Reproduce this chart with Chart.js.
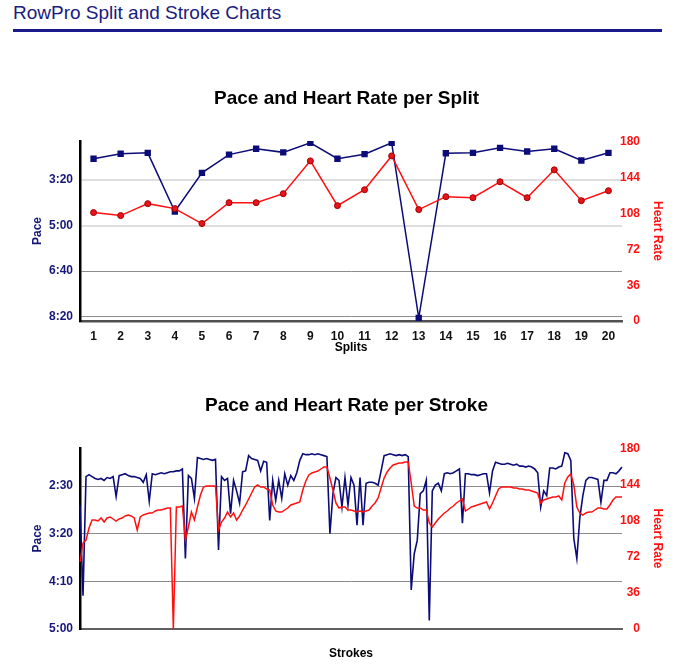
<!DOCTYPE html>
<html>
<head>
<meta charset="utf-8">
<title>RowPro Split and Stroke Charts</title>
<script src="https://cdn.jsdelivr.net/npm/chart.js@4.4.1/dist/chart.umd.min.js"></script>
<style>
  body { margin: 0; background: #fff; width: 685px; height: 665px; overflow: hidden; position: relative;
         font-family: "Liberation Sans", Arial, Helvetica, sans-serif; }
  #head { position: absolute; left: 13px; top: 2px; font-size: 19px; color: #1a1a80; white-space: nowrap; }
  #rule { position: absolute; left: 13px; top: 29px; width: 649px; height: 3px; background: #1a1a8a; }
  canvas { position: absolute; left: 0; }
</style>
</head>
<body>
<div id="head">RowPro Split and Stroke Charts</div>
<div id="rule"></div>
<canvas id="splitChart" width="685" height="300" style="top:60px"></canvas>
<canvas id="strokeChart" width="685" height="300" style="top:365px"></canvas>
<script>
// split data (pace in seconds per 500m, heart rate in bpm)
const splits = [1, 2, 3, 4, 5, 6, 7, 8, 9, 10, 11, 12, 13, 14, 15, 16, 17, 18, 19, 20];
const splitPace = [153, 142, 140, 269, 184, 144, 131, 139, 118, 153, 143, 118, 503, 141, 140, 129, 137, 131, 157, 140];
const splitHR = [109, 106, 118, 113, 98, 119, 119, 128, 161, 116, 132, 166, 112, 125, 124, 140, 124, 152, 121, 131];
const splitPaceTicks = [200, 300, 400, 500];
const hrTicks = [0, 36, 72, 108, 144, 180];

// stroke data
const strokePace = [
  170, 265, 140, 138, 140, 142, 143, 142, 144, 141,
  142, 140, 161, 139, 138, 137, 139, 140, 140, 141,
  142, 146, 138, 166, 137, 138, 137, 136, 137, 136,
  135, 135, 134, 134, 132, 226, 139, 142, 163, 120,
  121, 122, 121, 122, 123, 122, 217, 140, 144, 142,
  179, 144, 155, 168, 135, 134, 118, 121, 122, 123,
  134, 124, 125, 186, 144, 165, 144, 163, 137, 149,
  139, 144, 136, 123, 116, 117, 117, 116, 117, 116,
  117, 118, 119, 200, 158, 141, 144, 172, 141, 170,
  141, 149, 191, 141, 191, 147, 146, 146, 147, 149,
  134, 118, 117, 116, 117, 118, 117, 118, 117, 119,
  259, 221, 207, 158, 155, 144, 291, 155, 149, 147,
  155, 137, 136, 137, 136, 134, 132, 189, 137, 137,
  138, 138, 139, 138, 137, 137, 157, 134, 125, 126,
  127, 127, 126, 127, 128, 127, 129, 129, 130, 129,
  130, 132, 136, 172, 155, 160, 131, 131, 132, 130,
  129, 115, 116, 123, 205, 226, 183, 160, 144, 141,
  141, 142, 143, 167, 144, 144, 136, 136, 137, 134,
  130
];
const strokeHR = [
  67, 86, 89, 101, 109, 109, 108, 111, 107, 111,
  112, 110, 108, 110, 111, 113, 114, 113, 111, 99,
  112, 114, 115, 116, 116, 118, 119, 119, 120, 121,
  121, 0, 122, 122, 123, 89, 102, 117, 109, 122,
  134, 142, 143, 143, 143, 143, 99, 107, 111, 117,
  112, 116, 109, 113, 119, 124, 130, 136, 142, 144,
  142, 142, 140, 139, 124, 118, 117, 117, 119, 121,
  124, 125, 126, 127, 139, 148, 154, 156, 157, 158,
  160, 162, 162, 151, 139, 126, 121, 122, 122, 119,
  119, 118, 117, 118, 117, 118, 119, 123, 126, 131,
  141, 151, 157, 161, 164, 165, 166, 166, 167, 167,
  146, 123, 121, 121, 119, 119, 106, 102, 106, 110,
  113, 116, 118, 121, 123, 126, 128, 130, 118, 120,
  122, 123, 124, 125, 126, 127, 120, 126, 133, 140,
  142, 142, 142, 142, 141, 141, 140, 140, 139, 139,
  138, 137, 136, 126, 129, 130, 131, 132, 132, 133,
  129, 146, 152, 155, 144, 122, 116, 114, 116, 117,
  117, 119, 121, 121, 120, 120, 124, 129, 132, 132,
  132
];
const strokePaceTicks = [150, 200, 250, 300];
const strokes = strokePace.map((_, i) => i + 1);

const NAVY = '#16167a';
const PACE_LINE = '#0c0c78';
const RED = '#ff1010';
const FONT = '"Liberation Sans", Arial, Helvetica, sans-serif';

// plot area runs from x=80 to x=622; left padding keeps the titles centred like the original
const PAD_L = 8;

function mmss(s) {
  const m = Math.floor(s / 60);
  const r = Math.round(s - m * 60);
  return m + ':' + String(r).padStart(2, '0');
}

function paceAxis(min, max, ticks, gridColor, gridWidth) {
  return {
    position: 'left', reverse: true, min: min, max: max,
    afterBuildTicks: s => { s.ticks = ticks.map(v => ({ value: v })); },
    afterFit: s => { s.width = 80 - PAD_L; },
    ticks: { color: NAVY, font: { family: FONT, size: 12, weight: 'bold' }, padding: 7, callback: v => mmss(v) },
    grid: { color: gridColor, lineWidth: gridWidth, drawTicks: false },
    border: { color: '#000', width: 2.5 },
    title: { display: true, text: 'Pace', color: NAVY, font: { family: FONT, size: 12, weight: 'bold' },
             padding: { top: 38 - PAD_L - 7.2 } }
  };
}

function hrAxis(max) {
  return {
    position: 'right', min: 0, max: max,
    afterBuildTicks: s => { s.ticks = hrTicks.map(v => ({ value: v })); },
    afterFit: s => { s.width = 63; },
    ticks: { color: RED, font: { family: FONT, size: 12, weight: 'bold' }, mirror: true, padding: 18 },
    grid: { display: false, drawTicks: false },
    border: { display: false },
    title: { display: true, text: 'Heart Rate', color: RED, font: { family: FONT, size: 12, weight: 'bold' },
             padding: { top: 685 - 657 - 7.2 } }
  };
}

// split chart
new Chart(document.getElementById('splitChart'), {
  type: 'line',
  data: {
    labels: splits,
    datasets: [{
      label: 'Heart Rate', data: splitHR, yAxisID: 'hr', order: 0,
      borderColor: RED, borderWidth: 1.5, backgroundColor: '#e8141c',
      pointStyle: 'circle', pointRadius: 3, pointBorderColor: '#a00000', pointBorderWidth: 1
    }, {
      label: 'Pace', data: splitPace, yAxisID: 'pace', order: 1,
      borderColor: PACE_LINE, borderWidth: 1.5, backgroundColor: PACE_LINE,
      pointStyle: 'rect', pointRadius: 4.5, pointBorderWidth: 0
    }]
  },
  options: {
    responsive: false, animation: false,
    layout: { padding: { left: PAD_L, right: 0, top: 0, bottom: 0 } },
    plugins: {
      legend: { display: false }, tooltip: { enabled: false },
      title: { display: true, text: 'Pace and Heart Rate per Split', color: '#000',
               font: { family: FONT, size: 19, weight: 'bold' }, padding: { top: 27, bottom: 31.2 } }
    },
    scales: {
      x: {
        type: 'category', offset: true,
        afterFit: s => { s.height = 39; },
        grid: { display: false, drawTicks: false },
        border: { color: '#505050', width: 2.5 },
        ticks: { color: '#111', font: { family: FONT, size: 12, weight: 'bold' }, padding: 8, maxRotation: 0 },
        title: { display: true, text: 'Splits', color: '#000', font: { family: FONT, size: 12, weight: 'bold' }, padding: { bottom: 5 } }
      },
      pace: paceAxis(114, 510, splitPaceTicks,
        c => (c.tick && c.tick.value < 400) ? '#dedede' : '#8c8c8c',
        c => (c.tick && c.tick.value < 400) ? 2 : 1),
      hr: hrAxis(181)
    }
  }
});

// stroke chart
new Chart(document.getElementById('strokeChart'), {
  type: 'line',
  data: {
    labels: strokes,
    datasets: [{
      label: 'Heart Rate', data: strokeHR, yAxisID: 'hr', order: 0,
      borderColor: RED, borderWidth: 1.5, pointRadius: 0
    }, {
      label: 'Pace', data: strokePace, yAxisID: 'pace', order: 1,
      borderColor: PACE_LINE, borderWidth: 1.6, pointRadius: 0
    }]
  },
  options: {
    responsive: false, animation: false,
    layout: { padding: { left: PAD_L, right: 0, top: 0, bottom: 0 } },
    plugins: {
      legend: { display: false }, tooltip: { enabled: false },
      title: { display: true, text: 'Pace and Heart Rate per Stroke', color: '#000',
               font: { family: FONT, size: 19, weight: 'bold' }, padding: { top: 29, bottom: 31.2 } }
    },
    scales: {
      x: {
        type: 'category', offset: false,
        afterFit: s => { s.height = 36; },
        grid: { display: false, drawTicks: false },
        border: { color: '#606060', width: 2 },
        ticks: { display: false },
        title: { display: true, text: 'Strokes', color: '#000', font: { family: FONT, size: 12, weight: 'bold' }, padding: { bottom: 4 } }
      },
      pace: paceAxis(110, 300, strokePaceTicks, '#8c8c8c', 1),
      hr: hrAxis(181)
    }
  }
});
</script>
</body>
</html>
